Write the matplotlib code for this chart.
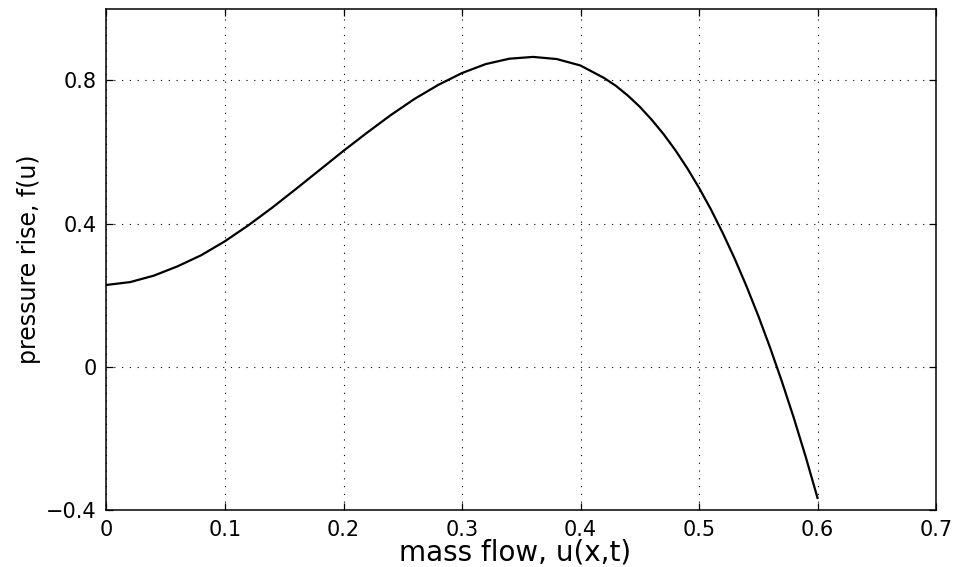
import matplotlib
matplotlib.use("Agg")
import matplotlib.pyplot as plt

# values (compressor characteristic)
mass_flow = [0.0, 0.02, 0.04, 0.06, 0.08, 0.10, 0.12, 0.14, 0.16, 0.18,
             0.20, 0.22, 0.24, 0.26, 0.28, 0.30, 0.32, 0.34, 0.36, 0.38,
             0.40, 0.42, 0.43, 0.44, 0.45, 0.46, 0.47, 0.48, 0.49, 0.50,
             0.51, 0.52, 0.53, 0.54, 0.55, 0.56, 0.57, 0.58, 0.59, 0.60]
pressure_rise = [0.229, 0.237, 0.255, 0.281, 0.312, 0.351, 0.396, 0.445, 0.497, 0.550,
                 0.603, 0.654, 0.703, 0.748, 0.787, 0.820, 0.845, 0.860, 0.865, 0.859,
                 0.841, 0.806, 0.784, 0.757, 0.726, 0.690, 0.650, 0.605, 0.555, 0.500,
                 0.440, 0.374, 0.303, 0.226, 0.143, 0.054, -0.041, -0.142, -0.250, -0.365]

x_ticks = [0, 0.1, 0.2, 0.3, 0.4, 0.5, 0.6, 0.7]
x_tick_labels = ["0", "0.1", "0.2", "0.3", "0.4", "0.5", "0.6", "0.7"]
y_ticks = [-0.4, 0, 0.4, 0.8]
y_tick_labels = ["\u22120.4", "0", "0.4", "0.8"]

plt.rcParams['font.family'] = ['DejaVu Sans']

fig = plt.figure(figsize=(9.56, 5.67), dpi=100)
ax = fig.add_axes([0.1114, 0.0997, 0.8677, 0.8853])

ax.plot(mass_flow, pressure_rise, color='black', linewidth=1.6)

ax.set_xlim(0, 0.7)
ax.set_ylim(-0.4, 1.0)
ax.set_xticks(x_ticks)
ax.set_xticklabels(x_tick_labels)
ax.set_yticks(y_ticks)
ax.set_yticklabels(y_tick_labels)

# сетка пунктиром как в MATLAB
ax.grid(True, color='black', linestyle=(0, (1, 6)), linewidth=0.8)
ax.tick_params(direction='in', length=5, width=0.9, top=True, right=True,
               labelsize=15, pad=7)
for sp in ax.spines.values():
    sp.set_linewidth(1.1)

ax.set_xlabel('mass flow, u(x,t)', fontsize=20)
ax.set_ylabel('pressure rise, f(u)', fontsize=17)
ax.xaxis.set_label_coords(0.4925, -0.056)
ax.yaxis.set_label_coords(-0.079, 0.5)

fig.savefig('out.png', dpi=100)
